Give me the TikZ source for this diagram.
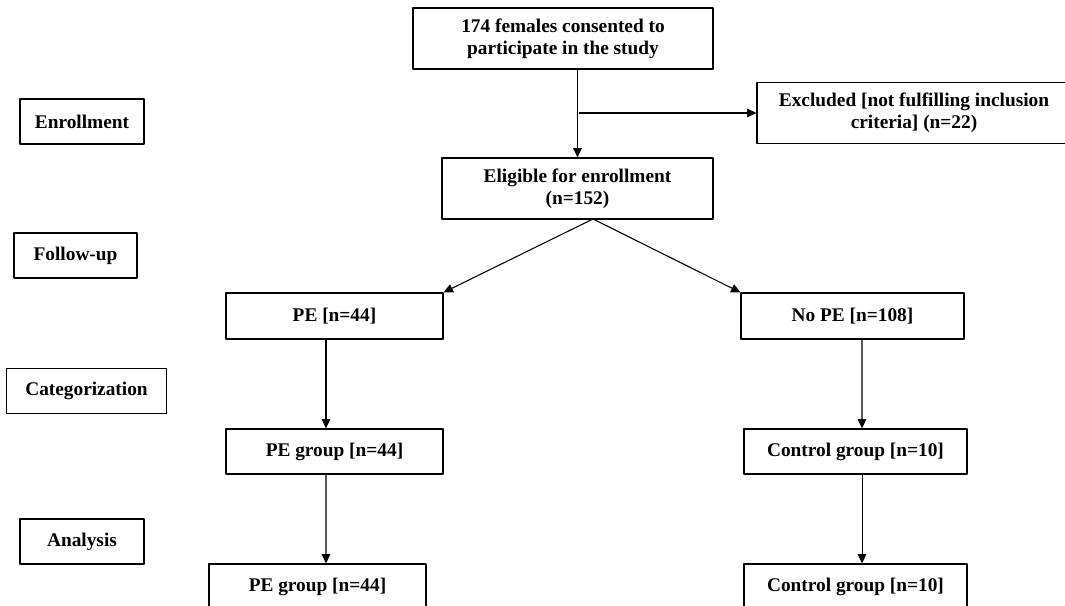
\documentclass[tikz,border=0pt]{standalone}
\usepackage{fontspec}
\setmainfont{Liberation Serif}
\usetikzlibrary{arrows.meta}
\begin{document}
\begin{tikzpicture}[x=0.75pt,y=-0.75pt,line join=round,>={Triangle[length=7pt,width=6.5pt]},
	box/.style={draw,line width=0.9pt,align=center,inner sep=0pt,font=\bfseries\fontsize{14.5}{16.5}\selectfont},
	link/.style={->,line width=0.8pt}]
	\useasboundingbox (0,0) rectangle (1065,606);
	\clip (0,0) rectangle (1065,606);
	% main flow
	\node[box,minimum width=225pt,minimum height=45.75pt] (consent) at (563,38.5) {174 females consented to\\participate in the study};
	\node[box,minimum width=235.5pt,minimum height=45.75pt] (excl) at (914,113) {Excluded [not fulfilling inclusion\\criteria] (n=22)};
	\node[box,minimum width=203.25pt,minimum height=45.75pt] (elig) at (577.5,188.5) {Eligible for enrollment\\(n=152)};
	\node[box,minimum width=162.75pt,minimum height=34.5pt] (pe) at (334.5,316) {PE [n=44]};
	\node[box,minimum width=167.25pt,minimum height=34.5pt] (nope) at (852.5,316) {No PE [n=108]};
	\node[box,minimum width=162.75pt,minimum height=33.75pt] (pegrp) at (334.5,451.5) {PE group [n=44]};
	\node[box,minimum width=167.25pt,minimum height=33.75pt] (ctrl) at (855.5,451.5) {Control group [n=10]};
	\node[box,minimum width=162.75pt,minimum height=33.75pt] (pegrpb) at (317.5,586.5) {PE group [n=44]};
	\node[box,minimum width=167.25pt,minimum height=33.75pt] (ctrlb) at (855.5,586.5) {Control group [n=10]};
	% stages
	\foreach \nm/\x/\y/\w/\txt in {enrol/82/121.5/93/Enrollment,follow/75.5/255.5/92.25/Follow-up,categ/86.5/391/120/Categorization,anal/82/541.5/93/Analysis}
	\node[box,minimum width=\w pt,minimum height=33.75pt] (\nm) at (\x,\y) {\txt};
	% connectors
	\coordinate (br) at (579,113);
	\coordinate (split) at (593,219);
	\draw[link] (consent.south -| elig.north) -- (elig.north);
	\draw[link] (br) -- (excl.west);
	\draw[link] (split) -- (pe.north east);
	\draw[link] (split) -- (nope.north west);
	\draw[link] ([xshift=-6.4pt]pe.south) -- ([xshift=-6.4pt]pegrp.north);
	\draw[link] ([xshift=-6.4pt]pegrp.south) -- ([xshift=6.4pt]pegrpb.north);
	\draw[link] ([xshift=7.1pt]nope.south) -- ([xshift=4.9pt]ctrl.north);
	\draw[link] ([xshift=4.9pt]ctrl.south) -- ([xshift=4.9pt]ctrlb.north);
\end{tikzpicture}
\end{document}
